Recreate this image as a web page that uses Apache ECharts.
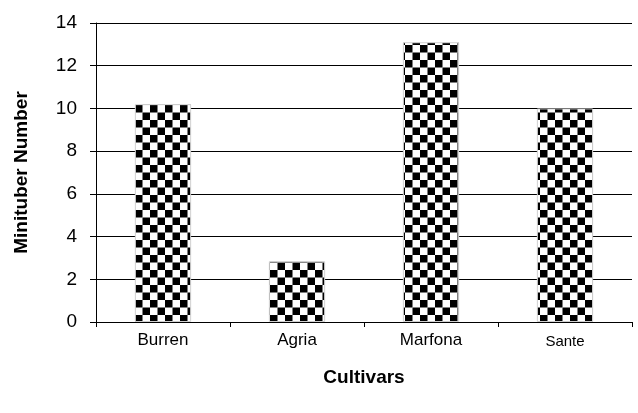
<!DOCTYPE html>
<html><head><meta charset="utf-8">
<script src="https://cdn.jsdelivr.net/npm/echarts@6/dist/echarts.min.js"></script>
<style>html,body{margin:0;padding:0;background:#fff}#c{width:638px;height:413px}</style>
</head><body><div id="c"></div>
<script>
const categories = ['Burren', 'Agria', 'Marfona', 'Sante'];
const values = [10.2, 2.85, 13.1, 10.0];
const yTicks = [0, 2, 4, 6, 8, 10, 12, 14];

const pat = document.createElement('canvas');
pat.width = 15; pat.height = 15;
const ctx = pat.getContext('2d');
ctx.fillStyle = '#fff'; ctx.fillRect(0, 0, 15, 15);
ctx.fillStyle = '#000';
ctx.fillRect(0, 0, 7.5, 7.5);
ctx.fillRect(7.5, 7.5, 7.5, 7.5);

const chart = echarts.init(document.getElementById('c'), null, {renderer: 'canvas'});
chart.setOption({
  animation: false,
  backgroundColor: '#fff',
  textStyle: {fontFamily: 'Liberation Sans, Arial, sans-serif'},
  grid: {left: 96, right: 6, top: 23, bottom: 91},
  xAxis: {
    type: 'category', data: categories,
    name: 'Cultivars', nameLocation: 'middle', nameGap: 46,
    nameTextStyle: {fontSize: 19, fontWeight: 'bold', color: '#000'},
    axisLine: {lineStyle: {color: '#000'}},
    axisTick: {show: true, length: 5, inside: false, lineStyle: {color: '#000'}},
    axisLabel: {
      fontSize: 17, color: '#000', margin: 10,
      formatter: function (v) { return v === 'Sante' ? '{s|' + v + '}' : v; },
      rich: {s: {fontSize: 15, color: '#000', padding: [2, 0, 0, 0]}}
    }
  },
  yAxis: {
    type: 'value', min: 0, max: 14, interval: 2,
    name: 'Minituber Number', nameLocation: 'middle', nameGap: 65,
    nameTextStyle: {fontSize: 19, fontWeight: 'bold', color: '#000'},
    axisLine: {show: true, lineStyle: {color: '#000'}},
    axisTick: {show: true, length: 6, lineStyle: {color: '#000'}},
    axisLabel: {fontSize: 19, color: '#000', margin: 19,
      formatter: function (v) { return yTicks.indexOf(v) >= 0 ? String(v) : ''; }},
    splitLine: {show: true, lineStyle: {color: '#000', width: 1}}
  },
  series: [{
    type: 'bar', data: values, barWidth: '42%',
    itemStyle: {color: {image: pat, repeat: 'repeat'}, borderColor: '#d0d0d0', borderWidth: 1}
  }]
});
</script></body></html>
